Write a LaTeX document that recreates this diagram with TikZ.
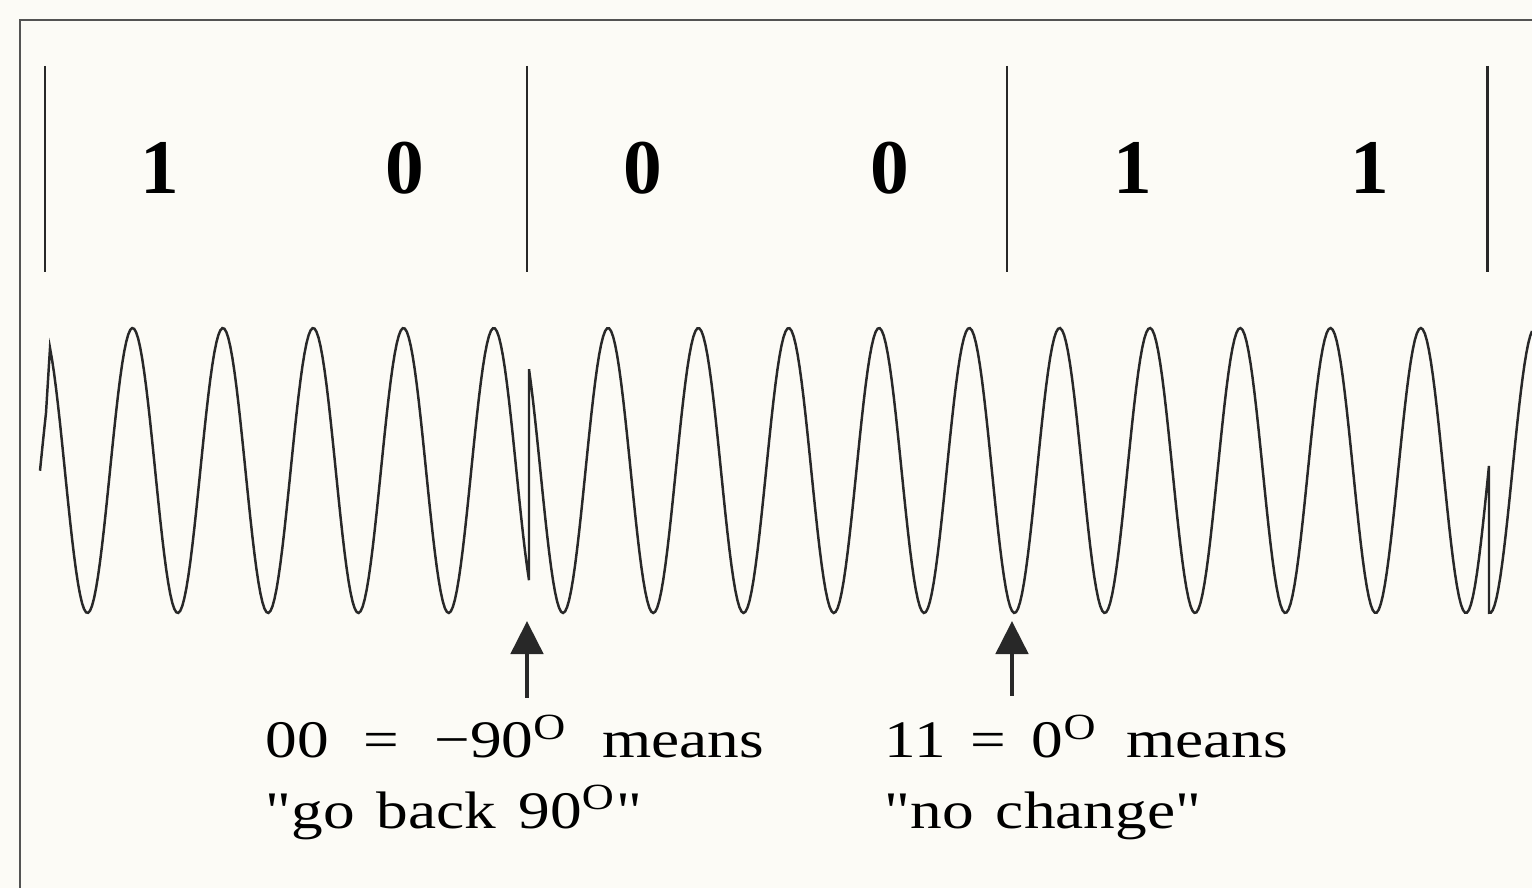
\documentclass[tikz,border=0pt]{standalone}
\usepackage{fontspec}
\setmainfont{Liberation Serif}
\usetikzlibrary{arrows.meta}
\definecolor{paper}{RGB}{252,251,246}
\definecolor{ink}{RGB}{40,40,40}
\newcommand\wgap{\hspace{0.55em}}
\newcommand\ngap{\hspace{0.35em}}
\newcommand\qq{\textquotedbl}

\begin{document}
\begin{tikzpicture}[x=0.01cm, y=-0.01cm,
    declare function={sig(\t,\p)=470.5-142.5*cos(3.9867*(\t-\p));},
    frame/.style={draw=ink!80, line width=0.6pt},
    divider/.style={ink, line width=0.85pt},
    wave/.style={ink, line width=0.7pt},
    bitlabel/.style={anchor=base, font=\fontsize{22}{26}\selectfont\bfseries},
    note/.style={anchor=base west, inner sep=0pt, font=\fontsize{15}{18}\selectfont},
    pointer/.style={ink, line width=1.4pt, -{Triangle[length=0.33cm,width=0.32cm]}}]
  \fill[paper] (0,0) rectangle (1532,888);
  \useasboundingbox (0,0) rectangle (1532,888);
  \draw[frame] (1532,20) -- (20,20) -- (20,888);

  \foreach \d in {45,527,1007,1487}
    \draw[divider] (\d,66) -- (\d,272);
  \foreach \b/\x [count=\i] in {1/160,0/405,0/643,0/890,1/1133,1/1370}
    \node[bitlabel] (bit\i) at (\x,194) {\b};

  \draw[wave]
    plot[domain=40:46, samples=5] (\x,{sig(\x,62.6)})
    -- plot[domain=50:529, samples=240] (\x,{sig(\x,132.6)})
    -- plot[domain=529:1489, samples=480] (\x,{sig(\x,608.1)})
    -- plot[domain=1489:1532, samples=24] (\x,{sig(\x,1535)});

  \coordinate (tail1) at (527,698);
  \coordinate (tip1) at (527,621);
  \coordinate (tail2) at (1012,696);
  \coordinate (tip2) at (1012,621);
  \draw[pointer] (tail1) -- (tip1);
  \draw[pointer] (tail2) -- (tip2);

  \node[note] (back) at (265,758)
    {\scalebox{1.2}[1]{00\wgap=\wgap−90\textsuperscript{O}\wgap means}};
  \node[note] (backb) at (265,828)
    {\scalebox{1.2}[1]{\qq go\ngap back\ngap 90\textsuperscript{O}\qq}};
  \node[note] (same) at (884,758)
    {\scalebox{1.2}[1]{11\hspace{0.4em}=\hspace{0.4em}0\textsuperscript{O}\hspace{0.45em}means}};
  \node[note] (sameb) at (884,828)
    {\scalebox{1.2}[1]{\qq no\ngap change\qq}};
\end{tikzpicture}
\end{document}
